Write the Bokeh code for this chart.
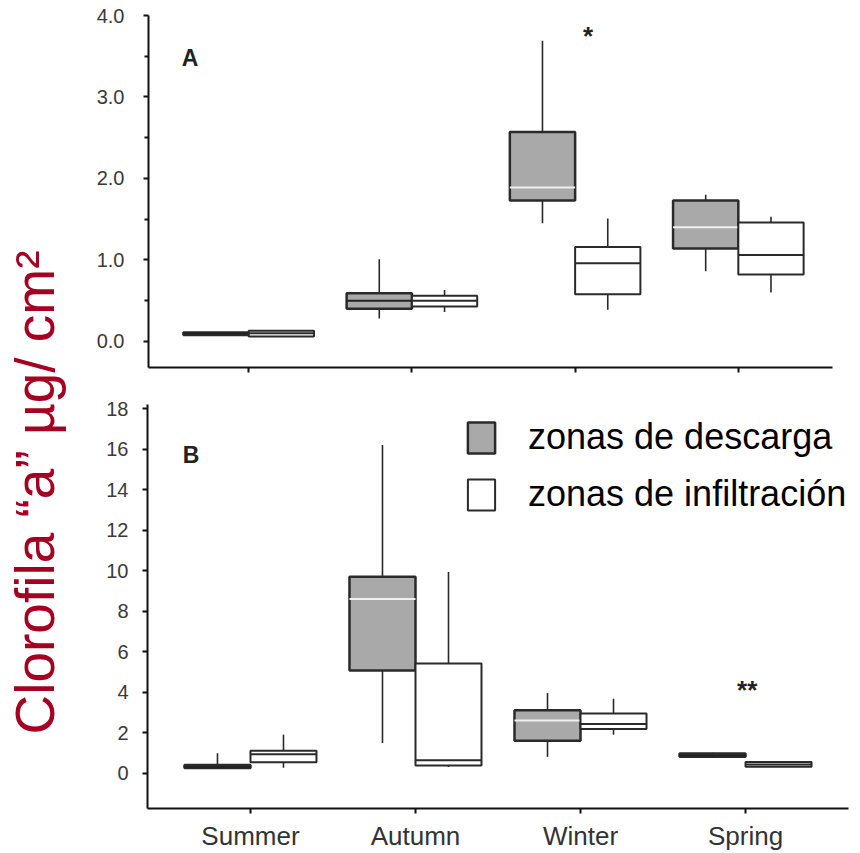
import numpy as np
from bokeh.plotting import figure
from bokeh.layouts import row, column
from bokeh.models import Range1d, FixedTicker, Legend, LegendItem, Label, ColumnDataSource
from bokeh.core.properties import value
from bokeh.embed import file_html
from bokeh.resources import INLINE

# ---------------- data ----------------
seasons = ["Summer", "Autumn", "Winter", "Spring"]
zones = ["zonas de descarga", "zonas de infiltración"]

# Panel A (box-plot statistics)
A_desc_low = [0.08, 0.28, 1.45, 0.86]
A_desc_q1 = [0.08, 0.40, 1.73, 1.14]
A_desc_med = [0.10, 0.50, 1.89, 1.40]
A_desc_q3 = [0.11, 0.59, 2.57, 1.73]
A_desc_high = [0.11, 1.01, 3.69, 1.80]

A_inf_low = [0.06, 0.36, 0.39, 0.60]
A_inf_q1 = [0.06, 0.43, 0.58, 0.82]
A_inf_med = [0.10, 0.50, 0.96, 1.06]
A_inf_q3 = [0.13, 0.56, 1.16, 1.46]
A_inf_high = [0.13, 0.63, 1.51, 1.53]

# Panel B
B_desc_low = [0.30, 1.48, 0.80, 0.85]
B_desc_q1 = [0.25, 5.06, 1.60, 0.80]
B_desc_med = [0.30, 8.60, 2.60, 0.88]
B_desc_q3 = [0.40, 9.69, 3.10, 0.97]
B_desc_high = [0.98, 16.2, 3.95, 1.00]

B_inf_low = [0.26, 0.30, 1.89, 0.31]
B_inf_q1 = [0.54, 0.37, 2.18, 0.31]
B_inf_med = [0.93, 0.63, 2.42, 0.42]
B_inf_q3 = [1.10, 5.41, 2.94, 0.55]
B_inf_high = [1.90, 9.93, 3.67, 0.55]

A_ticks = [0, 1, 2, 3, 4]
A_minor = [0.5, 1.5, 2.5, 3.5]
B_ticks = [0, 2, 4, 6, 8, 10, 12, 14, 16, 18]

sig_A = ("*", 3, 3.75)     # (text, season position, value)
sig_B = ("**", 4, 4.1)

# ---------------- styling ----------------
FONT = "Liberation Sans"
BOX_FILL = "#a9a9a9"
LINE = "#2a2a2a"
TICK_COL = "#3a3a3a"
TITLE_RED = "#a50021"
W = 0.4
pos = np.arange(1, len(seasons) + 1)
MED_A_DESC = ["#222222", "#222222", "#f0f0f0", "#f0f0f0"]
MED_B_DESC = ["#222222", "#f0f0f0", "#f0f0f0", "#222222"]


def draw_panel(p, low, q1, med, q3, high, xs, fill, med_colors, lw):
    src = ColumnDataSource(dict(x=xs, low=low, q1=q1, med=med, q3=q3, high=high,
                                x0=xs - W / 2, x1=xs + W / 2, mc=med_colors))
    p.segment(x0="x", y0="low", x1="x", y1="q1", source=src, line_color=LINE, line_width=1.6)
    p.segment(x0="x", y0="q3", x1="x", y1="high", source=src, line_color=LINE, line_width=1.6)
    r = p.vbar(x="x", bottom="q1", top="q3", width=W, source=src,
               fill_color=fill, line_color=LINE, line_width=lw)
    p.segment(x0="x0", y0="med", x1="x1", y1="med", source=src, line_color="mc", line_width=2)
    return r


def style_axes(p, show_x_labels):
    for ax in (p.xaxis[0], p.yaxis[0]):
        ax.axis_line_width = 2
        ax.axis_line_color = "#111111"
        ax.major_tick_line_color = "#111111"
        ax.major_tick_line_width = 2
        ax.minor_tick_line_color = "#111111"
        ax.minor_tick_line_width = 2
        ax.major_tick_in = 0
        ax.major_tick_out = 5
        ax.minor_tick_in = 0
        ax.minor_tick_out = 4
        ax.major_label_text_font = FONT
        ax.major_label_text_color = TICK_COL
    p.xaxis.ticker = FixedTicker(ticks=list(pos))
    if show_x_labels:
        p.xaxis.major_label_overrides = {int(k): s for k, s in zip(pos, seasons)}
        p.xaxis.major_label_text_font_size = "26px"
        p.xaxis.major_label_standoff = 7
        p.xaxis.major_label_text_color = "#333333"
    else:
        p.xaxis.major_label_overrides = {int(k): "" for k in pos}
        p.xaxis.major_label_text_font_size = "10px"
        p.xaxis.major_label_standoff = 0
    p.xgrid.visible = False
    p.ygrid.visible = False
    p.outline_line_color = None
    p.background_fill_color = "white"
    p.border_fill_color = "white"


# ---------------- panel A ----------------
p1 = figure(width=785, height=385, x_range=Range1d(0.386, 4.577), y_range=Range1d(-0.32, 4.0),
            output_backend="svg", toolbar_location=None,
            min_border_left=73, min_border_right=28, min_border_top=15, min_border_bottom=18)
draw_panel(p1, A_desc_low, A_desc_q1, A_desc_med, A_desc_q3, A_desc_high, pos - W / 2, BOX_FILL, MED_A_DESC, 2.5)
draw_panel(p1, A_inf_low, A_inf_q1, A_inf_med, A_inf_q3, A_inf_high, pos + W / 2, "white", [LINE] * 4, 2)
style_axes(p1, False)
p1.yaxis.ticker = FixedTicker(ticks=A_ticks, minor_ticks=A_minor)
p1.yaxis.major_label_overrides = {t: f"{t:.1f}" for t in A_ticks}
p1.yaxis.major_label_text_font_size = "20px"
p1.yaxis.major_label_standoff = 19
p1.add_layout(Label(x=0.64, y=3.48, text="A", text_font=FONT, text_font_style="bold",
                    text_font_size="23px", text_align="center", text_baseline="middle", text_color="#222222"))
p1.add_layout(Label(x=sig_A[1] + 0.08, y=sig_A[2], text=sig_A[0], text_font=FONT, text_font_style="bold",
                    text_font_size="26px", text_align="center", text_baseline="middle", text_color="#222222"))

# ---------------- panel B ----------------
p2 = figure(width=785, height=468, x_range=Range1d(0.376, 4.624), y_range=Range1d(-1.75, 18.2),
            output_backend="svg", toolbar_location=None,
            min_border_left=72, min_border_right=12, min_border_top=19, min_border_bottom=40)
rd = draw_panel(p2, B_desc_low, B_desc_q1, B_desc_med, B_desc_q3, B_desc_high, pos - W / 2, BOX_FILL, MED_B_DESC, 2.5)
ri = draw_panel(p2, B_inf_low, B_inf_q1, B_inf_med, B_inf_q3, B_inf_high, pos + W / 2, "white", [LINE] * 4, 2)
style_axes(p2, True)
p2.yaxis.ticker = FixedTicker(ticks=B_ticks, minor_ticks=[])
p2.yaxis.major_label_text_font_size = "20px"
p2.yaxis.major_label_standoff = 14
p2.add_layout(Label(x=0.64, y=15.7, text="B", text_font=FONT, text_font_style="bold",
                    text_font_size="23px", text_align="center", text_baseline="middle", text_color="#222222"))
p2.add_layout(Label(x=sig_B[1] + 0.01, y=sig_B[2], text=sig_B[0], text_font=FONT, text_font_style="bold",
                    text_font_size="26px", text_align="center", text_baseline="middle", text_color="#222222"))

legend = Legend(items=[LegendItem(label=zones[0], renderers=[rd]),
                       LegendItem(label=zones[1], renderers=[ri])],
                location=(317, 293), orientation="vertical",
                glyph_width=34, glyph_height=39, label_height=39, spacing=15,
                label_standoff=30, padding=0, margin=0,
                label_text_font=FONT, label_text_font_size="36px", label_text_color="black",
                border_line_color=None, background_fill_alpha=0)
p2.add_layout(legend)

# ---------------- y title strip ----------------
strip = figure(width=75, height=853, x_range=Range1d(0, 75), y_range=Range1d(0, 853),
               output_backend="svg", toolbar_location=None, title=None,
               x_axis_location=None, y_axis_location=None,
               min_border_left=0, min_border_right=0, min_border_top=0, min_border_bottom=0)
strip.xgrid.visible = False
strip.ygrid.visible = False
strip.outline_line_color = None
strip.text(x=[34], y=[361], text=["Clorofila “a” µg/ cm²"], angle=np.pi / 2,
           text_align="center", text_baseline="alphabetic",
           text_font=value(FONT), text_font_size="55px", text_color=TITLE_RED)

layout = row(strip, column(row(p1), row(p2)))
open("out.html", "w").write(file_html(layout, INLINE))
